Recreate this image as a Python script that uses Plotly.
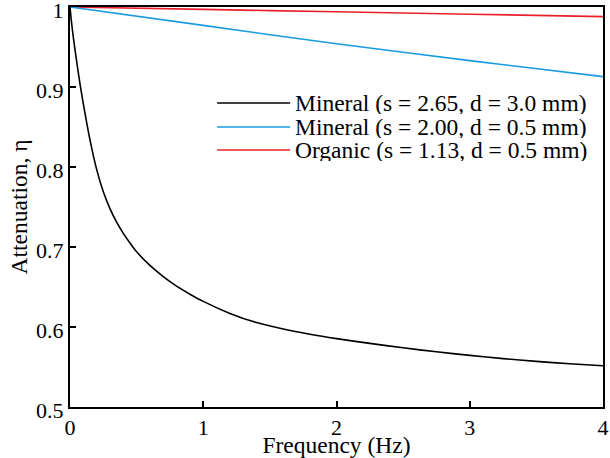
import plotly.graph_objects as go

# Frequency (Hz) and attenuation for each sediment type
freq_mineral_coarse = [0, 0.01, 0.025, 0.05, 0.075, 0.1, 0.15, 0.2, 0.25, 0.3,
                       0.35, 0.4, 0.45, 0.5, 0.6, 0.7, 0.8, 0.9, 1.0, 1.2,
                       1.4, 1.6, 1.8, 2.0, 2.25, 2.5, 2.75, 3.0, 3.25, 3.5,
                       3.75, 4.0]
eta_mineral_coarse = [1.0, 0.983, 0.962, 0.932, 0.904, 0.879, 0.834, 0.797, 0.769, 0.748,
                      0.731, 0.717, 0.705, 0.694, 0.677, 0.663, 0.651, 0.641, 0.632, 0.617,
                      0.6055, 0.5975, 0.591, 0.5855, 0.5795, 0.574, 0.569, 0.5645, 0.5605, 0.557,
                      0.554, 0.5515]

freq_mineral_fine = [0, 1, 2, 3, 4]
eta_mineral_fine = [1.0, 0.977, 0.954, 0.933, 0.913]

freq_organic = [0, 1, 2, 3, 4]
eta_organic = [1.0, 0.997, 0.994, 0.991, 0.988]

labels = ["Mineral (s = 2.65, d = 3.0 mm)",
          "Mineral (s = 2.00, d = 0.5 mm)",
          "Organic (s = 1.13, d = 0.5 mm)"]
colors = ["#000000", "#1a9be0", "#e8202a"]

x_ticks = [0, 1, 2, 3, 4]
y_ticks = [0.5, 0.6, 0.7, 0.8, 0.9, 1]
y_tick_text = ["0.5", "0.6", "0.7", "0.8", "0.9", "1"]

FONT = "Liberation Serif, Times New Roman, serif"
FS_TICK = 22
FS_TEXT = 23.5

fig = go.Figure()
series = [(freq_mineral_coarse, eta_mineral_coarse),
          (freq_mineral_fine, eta_mineral_fine),
          (freq_organic, eta_organic)]
# Draw the lines in reverse so the black curve sits on top
for (xs, ys), name, col in reversed(list(zip(series, labels, colors))):
    fig.add_trace(go.Scatter(x=xs, y=ys, mode="lines", name=name,
                             line=dict(color=col, width=1.6, shape="spline", smoothing=0.8),
                             showlegend=False))

# Hand-built legend with long line samples
legend_rows_y = [0.76, 0.70, 0.6425]
for name, col, yy in zip(labels, colors, legend_rows_y):
    fig.add_shape(type="line", xref="paper", yref="paper",
                  x0=0.276, x1=0.413, y0=yy, y1=yy,
                  line=dict(color=col, width=1.6))
    fig.add_annotation(xref="paper", yref="paper", x=0.421, y=yy,
                       text=name, showarrow=False, xanchor="left", yanchor="middle",
                       height=22, borderpad=0,
                       font=dict(family=FONT, size=FS_TEXT, color="black"))

axis_common = dict(showline=True, linecolor="black", linewidth=2, mirror=True,
                   ticks="inside", ticklen=6, tickwidth=1.5, tickcolor="black",
                   showgrid=False, zeroline=False, automargin=False,
                   ticklabeloverflow="allow",
                   tickfont=dict(family=FONT, size=FS_TICK, color="black"))

fig.update_xaxes(range=[0, 4], tickvals=x_ticks, ticktext=[str(t) for t in x_ticks],
                 title=dict(text="Frequency (Hz)", standoff=0,
                            font=dict(family=FONT, size=FS_TEXT, color="black")),
                 **axis_common)
fig.update_yaxes(range=[0.5, 1], tickvals=y_ticks, ticktext=y_tick_text,
                 ticklabelshift=3,
                 title=dict(text="Attenuation, η", standoff=2,
                            font=dict(family=FONT, size=FS_TEXT, color="black")),
                 **axis_common)

fig.update_layout(width=610, height=458,
                  margin=dict(l=70, r=7, t=7, b=51),
                  plot_bgcolor="white", paper_bgcolor="white",
                  font=dict(family=FONT, size=FS_TICK, color="black"))

fig.write_html("out.html")
